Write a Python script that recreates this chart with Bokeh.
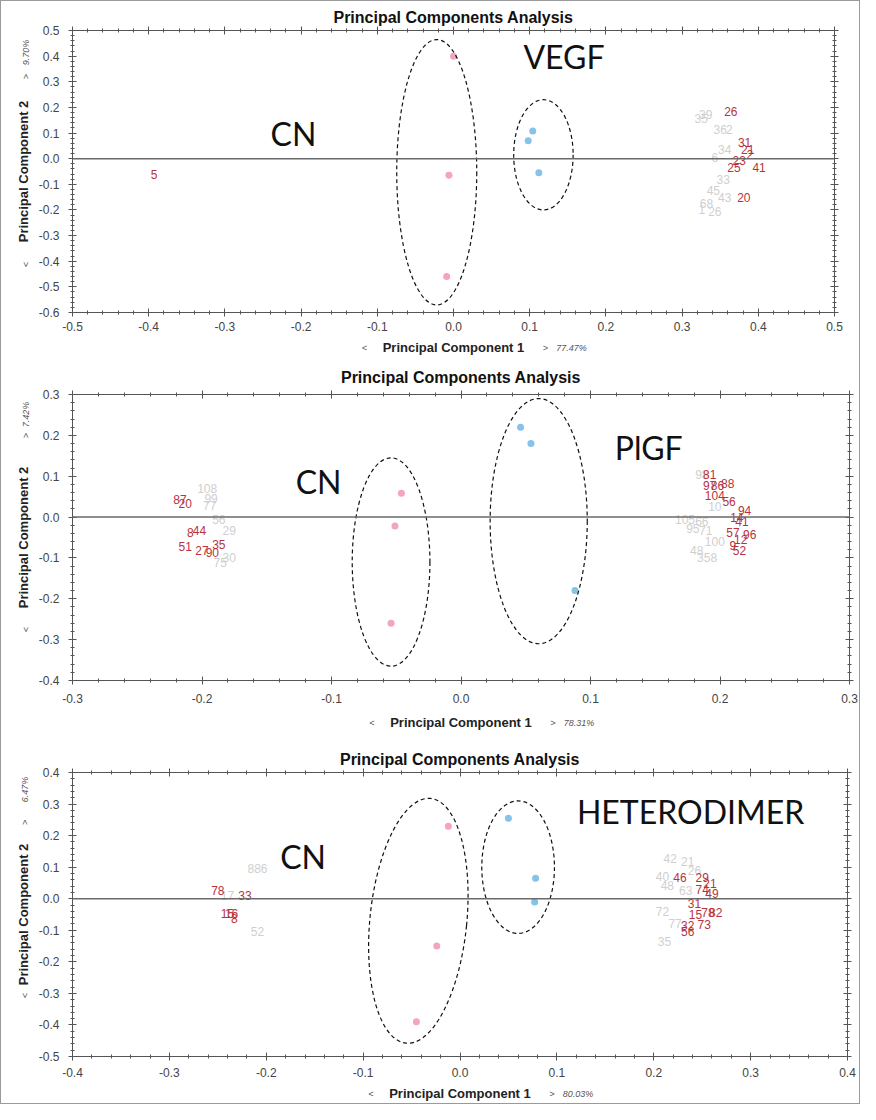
import math
from bokeh.plotting import figure
from bokeh.models import (ColumnDataSource, FixedTicker, PrintfTickFormatter,
                          LinearAxis, Span, Range1d, CustomJSTickFormatter, AllLabels)
from bokeh.layouts import column
from bokeh.core.properties import value
from bokeh.embed import file_html
from bokeh.resources import INLINE

FONT = "Liberation Sans"
BIG_FONT = "Lato"
PINK = "#f5a3c4"
BLUE = "#86c2ea"
RED = "#b8333b"
GRAY = "#cfcfcf"
AXIS = "#555555"

# ---------------- Panel 1 : VEGF ----------------
vegf_cn_x = [0.000, -0.006, -0.009]
vegf_cn_y = [0.400, -0.065, -0.460]
vegf_trt_x = [0.104, 0.098, 0.112]
vegf_trt_y = [0.108, 0.070, -0.055]
vegf_red_lab = ["5", "26", "31", "21", "2", "23", "25", "41", "20"]
vegf_red_x = [-0.393, 0.364, 0.382, 0.386, 0.389, 0.375, 0.368, 0.401, 0.381]
vegf_red_y = [-0.062, 0.184, 0.063, 0.035, 0.016, -0.008, -0.035, -0.035, -0.153]
vegf_gray_lab = ["39", "35", "36", "2", "34", "6", "33", "45", "43", "68", "1", "26"]
vegf_gray_x = [0.331, 0.325, 0.350, 0.362, 0.356, 0.343, 0.354, 0.341, 0.356, 0.332, 0.326, 0.343]
vegf_gray_y = [0.172, 0.155, 0.115, 0.112, 0.035, 0.004, -0.082, -0.125, -0.153, -0.173, -0.200, -0.205]

# ---------------- Panel 2 : PlGF ----------------
plgf_cn_x = [-0.046, -0.051, -0.054]
plgf_cn_y = [0.058, -0.022, -0.260]
plgf_trt_x = [0.046, 0.054, 0.088]
plgf_trt_y = [0.220, 0.180, -0.180]
plgf_red_lab = ["87", "20", "8", "44", "51", "27", "90", "35",
                "81", "97", "86", "88", "104", "56", "94", "14", "41", "96", "57", "12", "9", "52"]
plgf_red_x = [-0.217, -0.213, -0.209, -0.202, -0.213, -0.200, -0.192, -0.187,
              0.192, 0.192, 0.198, 0.206, 0.196, 0.207, 0.219, 0.213, 0.217, 0.223, 0.210, 0.216, 0.210, 0.215]
plgf_red_y = [0.044, 0.032, -0.037, -0.032, -0.071, -0.081, -0.086, -0.066,
              0.103, 0.078, 0.078, 0.081, 0.054, 0.037, 0.017, 0.000, -0.012, -0.042, -0.037, -0.056, -0.069, -0.081]
plgf_gray_lab = ["108", "99", "77", "56", "29", "30", "75",
                 "98", "10", "105", "66", "95", "71", "100", "48", "358"]
plgf_gray_x = [-0.196, -0.193, -0.194, -0.187, -0.179, -0.179, -0.186,
               0.186, 0.196, 0.173, 0.186, 0.179, 0.189, 0.196, 0.182, 0.190]
plgf_gray_y = [0.069, 0.046, 0.029, -0.007, -0.034, -0.098, -0.110,
               0.103, 0.027, -0.007, -0.010, -0.029, -0.032, -0.061, -0.081, -0.098]

# ---------------- Panel 3 : HETERODIMER ----------------
het_cn_x = [-0.012, -0.024, -0.045]
het_cn_y = [0.230, -0.150, -0.390]
het_trt_x = [0.050, 0.078, 0.077]
het_trt_y = [0.255, 0.065, -0.010]
het_red_lab = ["78", "33", "15", "16", "8",
               "46", "29", "21", "74", "49", "31", "15", "78", "82", "32", "73", "56"]
het_red_x = [-0.250, -0.222, -0.240, -0.236, -0.233,
             0.227, 0.250, 0.258, 0.250, 0.260, 0.242, 0.243, 0.256, 0.264, 0.235, 0.252, 0.235]
het_red_y = [0.025, 0.010, -0.047, -0.047, -0.063,
             0.066, 0.066, 0.047, 0.030, 0.016, -0.016, -0.051, -0.044, -0.044, -0.085, -0.082, -0.104]
het_gray_lab = ["886", "17", "52",
                "42", "21", "26", "40", "48", "63", "72", "77", "35"]
het_gray_x = [-0.209, -0.240, -0.209,
              0.217, 0.235, 0.242, 0.209, 0.214, 0.233, 0.209, 0.222, 0.211]
het_gray_y = [0.095, 0.010, -0.104,
              0.126, 0.117, 0.088, 0.069, 0.041, 0.025, -0.041, -0.079, -0.136]

# ---------------- annotations (group outlines and names) ----------------
vegf_ell = dict(x=[-0.022, 0.118], y=[-0.053, 0.015], w=[0.105, 0.078], h=[1.035, 0.430], a=[0.0, 0.0])
plgf_ell = dict(x=[-0.054, 0.060], y=[-0.110, -0.010], w=[0.060, 0.075], h=[0.510, 0.600], a=[0.0, 0.0])
het_ell = dict(x=[-0.043, 0.060], y=[-0.070, 0.100], w=[0.100, 0.075], h=[0.780, 0.420], a=[-0.10, 0.0])
vegf_names = dict(t=["CN", "VEGF"], x=[-0.210, 0.145], y=[0.100, 0.400])
plgf_names = dict(t=["CN", "PlGF"], x=[-0.110, 0.145], y=[0.088, 0.170])
het_names = dict(t=["CN", "HETERODIMER"], x=[-0.162, 0.238], y=[0.135, 0.275])

pct_x = ["77.47%", "78.31%", "80.03%"]
pct_y = ["9.70%", "7.42%", "6.47%"]

PICK_JS = """
for (let i = 0; i < pos.length; i++) {
    if (Math.abs(tick - pos[i]) < 1e-9) { return labs[i]; }
}
return '';
"""


def ticks(a, b, step):
    n = int(round((b - a) / step))
    return [round(a + i * step, 2) for i in range(n + 1)]


def style_axis(ax, xt, mt, labels=True):
    ax.ticker = FixedTicker(ticks=xt, minor_ticks=mt)
    ax.formatter = PrintfTickFormatter(format="%.1f")
    ax.axis_line_color = AXIS
    ax.major_tick_line_color = AXIS
    ax.minor_tick_line_color = AXIS
    ax.major_tick_in = 4
    ax.major_tick_out = 4
    ax.minor_tick_in = 2
    ax.minor_tick_out = 2
    ax.major_label_text_font = FONT
    if labels:
        ax.major_label_text_font_size = "12px"
        ax.major_label_text_color = "#444444"
    else:
        ax.major_label_text_font_size = "1px"
        ax.major_label_text_color = None
        ax.major_label_standoff = 0


def deco_axis(pos, labs, standoff, vertical=False):
    ax = LinearAxis(ticker=FixedTicker(ticks=sorted(pos)),
                    formatter=CustomJSTickFormatter(args=dict(pos=pos, labs=labs), code=PICK_JS),
                    major_label_policy=AllLabels())
    ax.axis_line_color = None
    ax.major_tick_line_color = None
    ax.minor_tick_line_color = None
    ax.major_tick_in = 0
    ax.major_tick_out = 0
    ax.minor_tick_in = 0
    ax.minor_tick_out = 0
    ax.major_label_text_font = FONT
    ax.major_label_text_font_size = "9px"
    ax.major_label_text_font_style = "italic"
    ax.major_label_text_color = "#555555"
    ax.major_label_standoff = standoff
    if vertical:
        ax.major_label_orientation = "vertical"
    return ax


def make_panel(xr, yr, cn_x, cn_y, trt_x, trt_y, red_lab, red_x, red_y,
               gray_lab, gray_x, gray_y, ell, names, px_lab, py_lab,
               fig_w, fig_h, b_top, b_bottom, page_top, title_gap, xlab_gap, xtitle_gap):
    b_left = 71
    b_right = 10
    p = figure(width=fig_w, height=fig_h, x_range=Range1d(*xr), y_range=Range1d(*yr),
               output_backend="svg", toolbar_location=None,
               min_border_left=b_left, min_border_right=b_right,
               min_border_top=b_top, min_border_bottom=b_bottom,
               x_axis_location="below", y_axis_location="left")
    p.grid.visible = False
    p.outline_line_color = AXIS
    p.background_fill_color = "white"
    p.border_fill_color = "white"

    xt = ticks(xr[0], xr[1], 0.1)
    xm = ticks(xr[0], xr[1], 0.02)
    yt = ticks(yr[0], yr[1], 0.1)
    ym = ticks(yr[0], yr[1], 0.02)

    style_axis(p.xaxis[0], xt, xm)
    style_axis(p.yaxis[0], yt, ym)
    p.xaxis[0].major_label_standoff = xlab_gap
    p.yaxis[0].major_label_standoff = 9
    p.xaxis[0].axis_label = "Principal Component 1"
    p.yaxis[0].axis_label = "Principal Component 2"
    for ax in (p.xaxis[0], p.yaxis[0]):
        ax.axis_label_text_font = FONT
        ax.axis_label_text_font_style = "bold"
        ax.axis_label_text_font_size = "13px"
        ax.axis_label_text_color = "#222222"
    p.xaxis[0].axis_label_standoff = xtitle_gap
    p.yaxis[0].axis_label_standoff = 5

    top_ax = LinearAxis()
    style_axis(top_ax, xt, xm, labels=False)
    p.add_layout(top_ax, "above")
    right_ax = LinearAxis()
    style_axis(right_ax, yt, ym, labels=False)
    p.add_layout(right_ax, "right")

    p.title.text = "Principal Components Analysis"
    p.title.align = "center"
    p.title.text_font = FONT
    p.title.text_font_style = "bold"
    p.title.text_font_size = "16px"
    p.title.text_color = "#111111"
    p.title.standoff = title_gap

    p.add_layout(Span(location=0, dimension="width", line_color="#6a6a6a", line_width=1.5))

    p.scatter(cn_x, cn_y, size=7, fill_color=PINK, line_color=None)
    p.scatter(trt_x, trt_y, size=7, fill_color=BLUE, line_color=None)

    gsrc = ColumnDataSource(dict(x=gray_x, y=gray_y, t=gray_lab))
    p.text(x="x", y="y", text="t", source=gsrc, text_color=GRAY,
           text_font=value(FONT), text_font_size="12px",
           text_align="center", text_baseline="middle")
    rsrc = ColumnDataSource(dict(x=red_x, y=red_y, t=red_lab))
    p.text(x="x", y="y", text="t", source=rsrc, text_color=RED,
           text_font=value(FONT), text_font_size="12px",
           text_align="center", text_baseline="middle")

    p.ellipse(x=ell["x"], y=ell["y"], width=ell["w"], height=ell["h"], angle=ell["a"],
              fill_color=None, line_color="#111111", line_dash="4 3", line_width=1.2)

    nsrc = ColumnDataSource(dict(x=names["x"], y=names["y"], t=names["t"]))
    p.text(x="x", y="y", text="t", source=nsrc, text_color="#111111",
           text_font=value(BIG_FONT), text_font_size="32px",
           text_align="center", text_baseline="middle")

    # small navigation marks and explained-variance percentages next to axis titles
    fl = 9 + b_left
    fw = fig_w - b_left - b_right
    ft = page_top + b_top
    fh = fig_h - b_top - b_bottom
    cx = fl + fw / 2

    def dx(px):
        return xr[0] + (px - fl) / fw * (xr[1] - xr[0])

    def dy(py):
        return yr[1] - (py - ft) / fh * (yr[1] - yr[0])

    xs = [dx(cx - 89), dx(cx + 92), dx(cx + 118)]
    p.add_layout(deco_axis(xs, ["<", ">", px_lab], standoff=-15), "below")
    ptop, pup, pdown = py_lab[1]
    ys = [dy(ptop), dy(pup), dy(pdown)]
    p.add_layout(deco_axis(ys, [py_lab[0], ">", "<"], standoff=-18, vertical=True), "left")
    return p


p1 = make_panel((-0.5, 0.5), (-0.6, 0.5), vegf_cn_x, vegf_cn_y, vegf_trt_x, vegf_trt_y,
                vegf_red_lab, vegf_red_x, vegf_red_y, vegf_gray_lab, vegf_gray_x, vegf_gray_y,
                vegf_ell, vegf_names, pct_x[0], (pct_y[0], (60, 84, 272)),
                fig_w=843, fig_h=357, b_top=29, b_bottom=46, page_top=9,
                title_gap=2, xlab_gap=5, xtitle_gap=6)
p2 = make_panel((-0.3, 0.3), (-0.4, 0.3), plgf_cn_x, plgf_cn_y, plgf_trt_x, plgf_trt_y,
                plgf_red_lab, plgf_red_x, plgf_red_y, plgf_gray_lab, plgf_gray_x, plgf_gray_y,
                plgf_ell, plgf_names, pct_x[1], (pct_y[1], (422, 443, 637)),
                fig_w=858, fig_h=376, b_top=36, b_bottom=54, page_top=366,
                title_gap=10, xlab_gap=9, xtitle_gap=9)
p3 = make_panel((-0.4, 0.4), (-0.5, 0.4), het_cn_x, het_cn_y, het_trt_x, het_trt_y,
                het_red_lab, het_red_x, het_red_y, het_gray_lab, het_gray_x, het_gray_y,
                het_ell, het_names, pct_x[2], (pct_y[2], (797, 830, 1004)),
                fig_w=856, fig_h=369, b_top=38, b_bottom=46, page_top=742,
                title_gap=2, xlab_gap=7, xtitle_gap=6)

layout = column(p1, p2, p3, spacing=0, styles={"border": "1px solid #9a9a9a"})

open("out.html", "w").write(file_html(layout, INLINE))
